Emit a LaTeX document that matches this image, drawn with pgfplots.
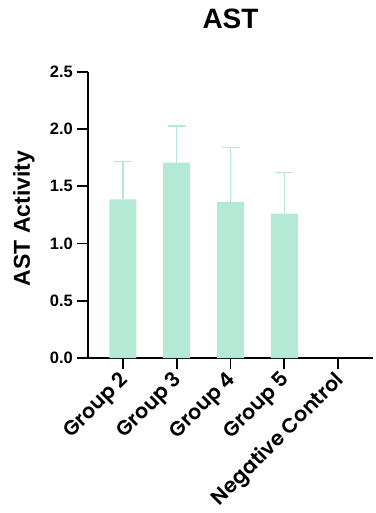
\documentclass[border=0pt]{standalone}
\usepackage{pgfplots}
\pgfplotsset{compat=1.18}
\usepackage{fontspec}
\setmainfont{Liberation Sans}
\newfontfamily\popfont{Poppins SemiBold}
\definecolor{mint}{RGB}{180,233,214}
\begin{document}
\begin{tikzpicture}
\path[use as bounding box] (-88pt,-155pt) rectangle (287pt,358pt);
\begin{axis}[
  at={(0pt,0pt)}, anchor=south west,
  scale only axis, width=285pt, height=286pt,
  xmin=-0.65, xmax=4.65, ymin=0, ymax=2.5,
  axis x line*=bottom, axis y line*=left,
  axis line style={-, line width=1.8pt, black},
  every tick/.style={draw=black, line width=1.8pt},
  major tick style={draw=black, line width=1.8pt},
  xtick align=outside, ytick align=outside,
  major tick length=11pt,
  xtick={0,1,2,3,4},
  xticklabels={Group 2, Group 3, Group 4, Group 5, Negative Control},
  x tick label style={rotate=45, anchor=north east, font=\popfont\fontsize{20.5}{20.5}\selectfont, inner sep=1pt, yshift=4pt, xshift=-3pt},
  ytick={0,0.5,1,1.5,2,2.5},
  yticklabel style={font=\bfseries\fontsize{16.5}{16.5}\selectfont, inner sep=1pt, xshift=-3pt, /pgf/number format/.cd, fixed, fixed zerofill, precision=1, assume math mode=true},
  ylabel={AST Activity},
  ylabel style={font=\bfseries\fontsize{23}{23}\selectfont, at={(axis description cs:-0.2035,0.488)}, anchor=base},
  title={AST},
  title style={font=\bfseries\fontsize{28}{28}\selectfont, at={(axis description cs:0.5,1)}, anchor=base, yshift=37pt},
  ybar, bar width=27pt,
  clip=false,
]
\addplot[fill=mint, draw=none,
  error bars/.cd, y dir=plus, y explicit,
  error bar style={mint, line width=1.4pt},
  error mark options={mint, line width=1.4pt, mark size=9pt, rotate=90}]
  table[x=x, y=y, y error=e] {
x y e
0 1.387 0.329
1 1.707 0.321
2 1.364 0.474
3 1.261 0.359
};
\pgfplotsinvokeforeach{0,1,2,3,4}{\draw[line width=1.8pt, black] (axis cs:#1,0) -- ++(0pt,-11pt);}
\pgfplotsinvokeforeach{0,0.5,1,1.5,2,2.5}{\draw[line width=1.8pt, black] (axis cs:-0.65,#1) -- ++(-11pt,0pt);}
\end{axis}
\end{tikzpicture}
\end{document}
